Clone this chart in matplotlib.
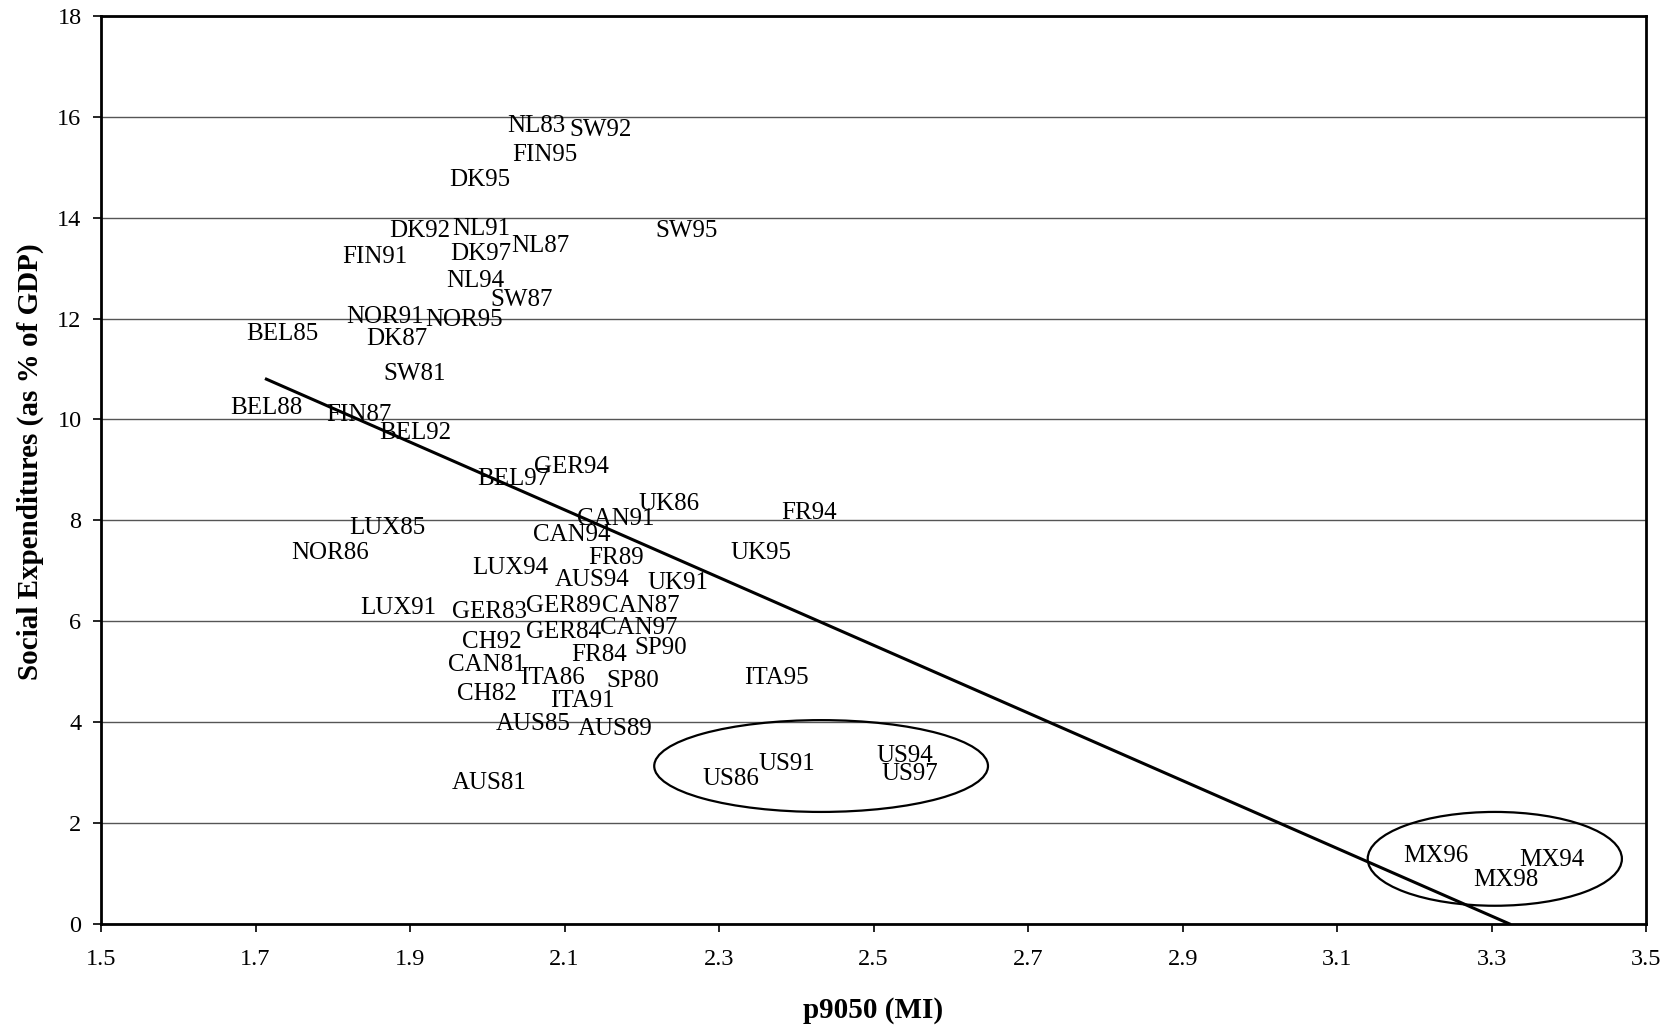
import numpy as np
import matplotlib
matplotlib.use('Agg')
import matplotlib.pyplot as plt
from matplotlib.patches import Ellipse

# country-year labels, p9050 and social expenditure (% of GDP)
labels = ['NL83', 'SW92', 'FIN95', 'DK95', 'SW95', 'DK92', 'NL91', 'NL87', 'DK97', 'FIN91',
          'NL94', 'SW87', 'NOR91', 'NOR95', 'BEL85', 'DK87', 'SW81', 'BEL88', 'FIN87', 'BEL92',
          'GER94', 'BEL97', 'UK86', 'FR94', 'CAN91', 'LUX85', 'CAN94', 'NOR86', 'UK95', 'FR89',
          'LUX94', 'AUS94', 'UK91', 'LUX91', 'GER83', 'GER89', 'CAN87', 'GER84', 'CAN97', 'CH92',
          'SP90', 'FR84', 'CAN81', 'ITA95', 'ITA86', 'SP80', 'CH82', 'ITA91', 'AUS85', 'AUS89',
          'US94', 'US91', 'US97', 'US86', 'AUS81', 'MX96', 'MX94', 'MX98']
p9050 = [2.064, 2.146, 2.075, 1.990, 2.258, 1.912, 1.992, 2.068, 1.992, 1.855,
         1.985, 2.044, 1.867, 1.970, 1.735, 1.883, 1.906, 1.714, 1.834, 1.907,
         2.109, 2.033, 2.235, 2.416, 2.166, 1.870, 2.109, 1.797, 2.354, 2.167,
         2.030, 2.135, 2.247, 1.885, 2.003, 2.099, 2.199, 2.099, 2.196, 2.006,
         2.225, 2.145, 1.999, 2.374, 2.084, 2.188, 2.000, 2.123, 2.059, 2.166,
         2.540, 2.388, 2.547, 2.315, 2.003, 3.228, 3.378, 3.318]
socexp = [15.86, 15.79, 15.29, 14.80, 13.78, 13.78, 13.83, 13.49, 13.34, 13.28,
          12.79, 12.41, 12.09, 12.03, 11.75, 11.65, 10.95, 10.27, 10.13, 9.79,
          9.11, 8.88, 8.37, 8.20, 8.08, 7.89, 7.76, 7.40, 7.40, 7.31,
          7.10, 6.87, 6.81, 6.32, 6.24, 6.36, 6.36, 5.84, 5.92, 5.64,
          5.52, 5.39, 5.18, 4.93, 4.93, 4.86, 4.61, 4.46, 4.02, 3.91,
          3.38, 3.23, 3.02, 2.92, 2.85, 1.40, 1.31, 0.93]

# fitted trend line end points
trend_x = [1.714, 3.323]
trend_y = [10.80, 0.0]

plt.rcParams['font.family'] = ['Liberation Serif', 'DejaVu Serif']

fig = plt.figure(figsize=(16.73, 10.30), dpi=100)
ax = fig.add_axes([0.0604, 0.103, 0.9236, 0.8815])

ax.set_xlim(1.5, 3.5)
ax.set_ylim(0, 18)
ax.set_yticks(np.arange(0, 19, 2))
ax.set_xticks(np.arange(1.5, 3.51, 0.2))
ax.set_xticklabels(['%.1f' % v for v in np.arange(1.5, 3.51, 0.2)])
ax.grid(axis='y', color='#555555', linewidth=1.0)
ax.set_axisbelow(True)

for s in ax.spines.values():
    s.set_linewidth(2.0)
ax.tick_params(axis='both', direction='out', length=6, width=1.2, labelsize=17.5, colors='black')
ax.tick_params(axis='x', pad=12)
ax.tick_params(axis='y', pad=8)

for lab, x, y in zip(labels, p9050, socexp):
    ax.text(x, y - 0.05, lab, ha='center', va='center', fontsize=18)

ax.plot(trend_x, trend_y, color='black', linewidth=2.2)

# circled groups (US, Mexico)
ax.add_patch(Ellipse((2.432, 3.13), 0.432, 1.82, fill=False, edgecolor='black', linewidth=1.6))
ax.add_patch(Ellipse((3.304, 1.29), 0.329, 1.86, fill=False, edgecolor='black', linewidth=1.6))

fig.text(0.522, 0.0194, 'p9050 (MI)', ha='center', va='center', fontsize=21, fontweight='bold')
fig.text(0.018, 0.552, 'Social Expenditures (as % of GDP)', ha='center', va='center',
         rotation=90, fontsize=21, fontweight='bold')

fig.savefig('out.png', dpi=100)
